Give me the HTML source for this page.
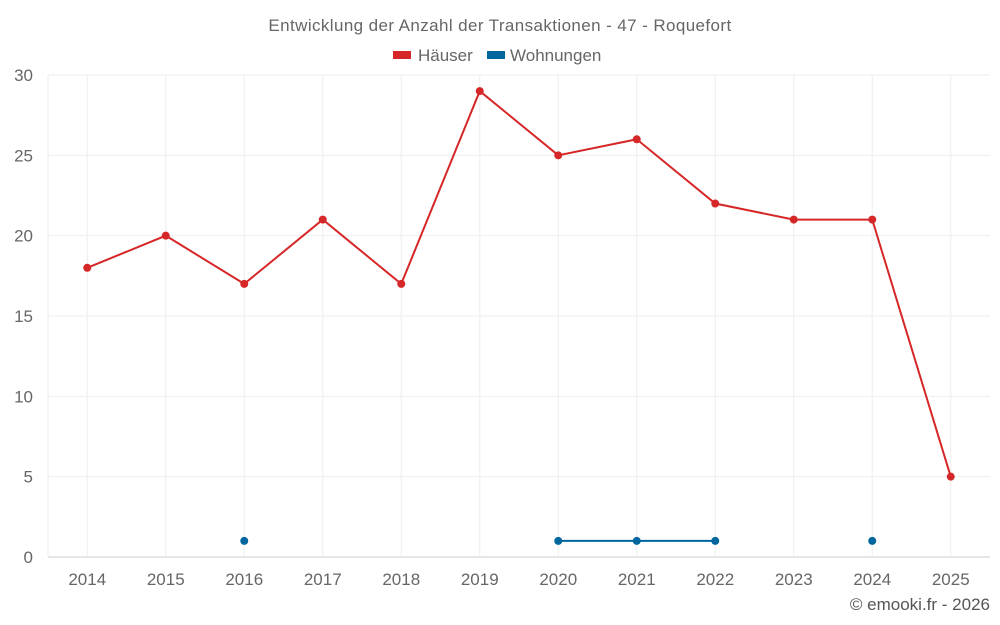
<!DOCTYPE html>
<html><head><meta charset="utf-8"><style>
html,body{margin:0;padding:0;background:#fff;}
svg{display:block;font-family:"Liberation Sans",sans-serif;}
</style></head><body>
<svg id="chart" width="1000" height="625">
<text x="500" y="31" text-anchor="middle" font-size="17" letter-spacing="0.4" fill="#666">Entwicklung der Anzahl der Transaktionen - 47 - Roquefort</text>
<g>
<g><rect x="393" y="51" width="18" height="8" fill="#d62728"/><text x="418" y="61" font-size="17" fill="#666">Häuser</text></g>
<g><rect x="487" y="51" width="18" height="8" fill="#00679e"/><text x="510" y="61" font-size="17" fill="#666">Wohnungen</text></g>
</g>
<g id="grid"></g><g id="axes"></g><g id="series"></g>
<text x="990" y="610" text-anchor="end" font-size="17" fill="#555">© emooki.fr - 2026</text>
</svg>
<script>
const years=["2014","2015","2016","2017","2018","2019","2020","2021","2022","2023","2024","2025"];
const haeuser=[18,20,17,21,17,29,25,26,22,21,21,5];
const wohnungen=[null,null,1,null,null,null,1,1,1,null,1,null];
const yTicks=[0,5,10,15,20,25,30];
const L=48,R=990,T=75,B=557,yMax=30;
const ns="http://www.w3.org/2000/svg";
const bw=(R-L)/years.length;
const x=i=>L+bw*(i+0.5);
const y=v=>B-(v/yMax)*(B-T);
function mk(tag,attrs,parent){const e=document.createElementNS(ns,tag);for(const k in attrs)e.setAttribute(k,attrs[k]);document.getElementById(parent).appendChild(e);return e;}
yTicks.forEach(t=>{
  const g=mk('line',{x1:L,x2:R,y1:y(t),y2:y(t),stroke:t===0?'#ccc':'#eee','stroke-width':1},'grid');
  
  
  const tx=mk('text',{x:33,y:y(t)+6,'text-anchor':'end','font-size':17,fill:'#666'},'axes');
  tx.textContent=t;
  
  
});
mk('line',{x1:L,x2:L,y1:T,y2:B,stroke:'#eee'},'grid');
years.forEach((yr,i)=>{
  const g=mk('line',{x1:x(i),x2:x(i),y1:T,y2:B,stroke:'#eee'},'grid');
  
  
  const tx=mk('text',{x:x(i),y:585,'text-anchor':'middle','font-size':17,fill:'#666'},'axes');
  tx.textContent=yr;
  
  
});
function draw(data,color,name){
  let d='',pen=false;
  data.forEach((v,i)=>{if(v==null){pen=false;return;}d+=(pen?'L':'M')+x(i)+','+y(v);pen=true;});
  const p=mk('path',{d:d,fill:'none',stroke:color,'stroke-width':2},'series');
  
  
  data.forEach((v,i)=>{if(v==null)return;
    const c=mk('circle',{cx:x(i),cy:y(v),r:4,fill:color},'series');
    
    
  });
}
draw(haeuser,'#d62728','haeuser');
draw(wohnungen,'#00679e','wohnungen');
</script>
</body></html>
